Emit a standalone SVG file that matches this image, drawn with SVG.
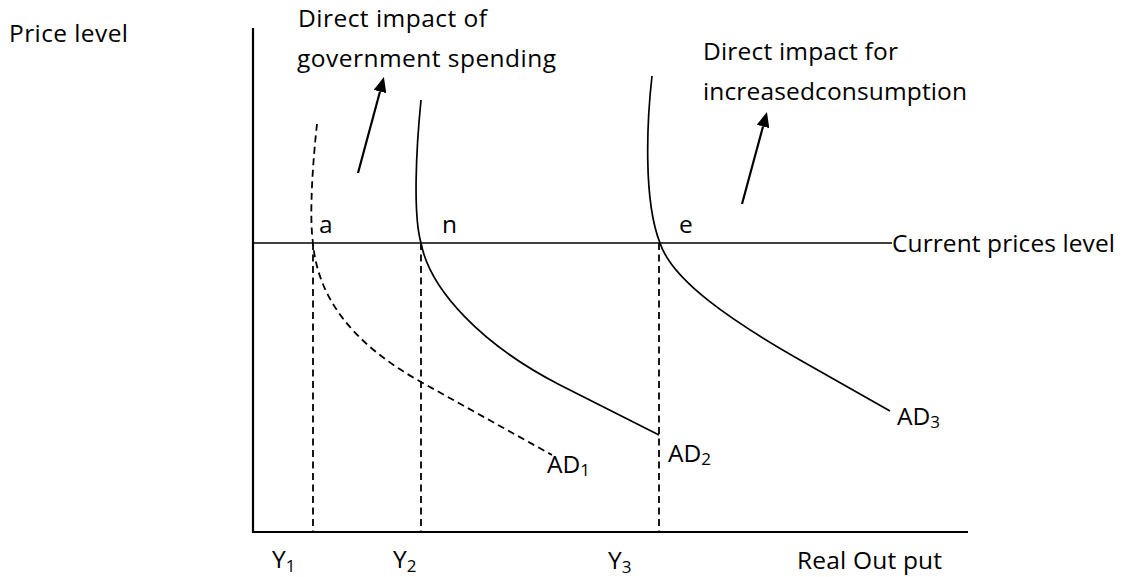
<svg xmlns="http://www.w3.org/2000/svg" width="1134" height="577" viewBox="0 0 1134 577">
<style>
text{font-family:"Open Sans","Liberation Sans",sans-serif;font-size:24.5px;fill:#000}
.sub{font-size:17px}
.axis{stroke:#000;stroke-width:2.2;fill:none}
.curve{stroke:#000;stroke-width:1.7;fill:none}
.dash{stroke:#000;stroke-width:1.8;fill:none;stroke-dasharray:7,4.5}
.arrow{stroke:#000;stroke-width:2.2;fill:none}
</style>
<defs>
<marker id="ah" markerUnits="userSpaceOnUse" markerWidth="15" markerHeight="13" refX="0" refY="6.5" orient="auto" viewBox="0 0 15 13">
<path d="M0,0 L15,6.5 L0,13 z" fill="#000"/>
</marker>
</defs>
<rect width="1134" height="577" fill="#fff"/>
<g id="axes">
<path class="axis" d="M253,28 L253,532 L968,532"/>
<text x="9" y="42" textLength="119">Price level</text>
<text x="797" y="569" textLength="145">Real Out put</text>
</g>
<g id="price-line">
<line class="curve" x1="253" y1="243" x2="892" y2="243" stroke-width="2"/>
<text x="892" y="252" textLength="223">Current prices level</text>
</g>
<g id="guides">
<line class="dash" x1="313" y1="243" x2="313" y2="532"/>
<line class="dash" x1="421" y1="243" x2="421" y2="532"/>
<line class="dash" x1="659" y1="243" x2="659" y2="532"/>
<text x="272" y="568">Y<tspan class="sub" dy="4">1</tspan></text>
<text x="393" y="568">Y<tspan class="sub" dy="4">2</tspan></text>
<text x="608" y="569">Y<tspan class="sub" dy="4">3</tspan></text>
</g>
<g id="AD1">
<path class="dash" d="M317,124 C313,160 309,215 313,243 C318,300 355,345 421,382 L552,455"/>
<text x="547" y="473">AD<tspan class="sub" dy="3">1</tspan></text>
<text x="319" y="233">a</text>
</g>
<g id="AD2">
<path class="curve" d="M421,100 C416,150 413,215 421,243 C430,290 482,345 560,385 L659,435"/>
<text x="668" y="462">AD<tspan class="sub" dy="3">2</tspan></text>
<text x="442" y="233">n</text>
</g>
<g id="AD3">
<path class="curve" d="M652,76 C647,120 643,200 660,243 C672,280 730,320 800,360 L890,411"/>
<text x="897" y="425">AD<tspan class="sub" dy="3">3</tspan></text>
<text x="679" y="233">e</text>
</g>
<g id="label-gov">
<text x="298" y="27" textLength="189">Direct impact of</text>
<text x="297" y="67" textLength="259">government spending</text>
</g>
<g id="label-cons">
<text x="703" y="60" textLength="195">Direct impact for</text>
<text x="703" y="100" textLength="264">increasedconsumption</text>
</g>
<g id="connectors">
<line class="arrow" x1="358" y1="173" x2="380" y2="91.5" marker-end="url(#ah)"/>
<line class="arrow" x1="742" y1="204" x2="763" y2="126.5" marker-end="url(#ah)"/>
</g>
</svg>
